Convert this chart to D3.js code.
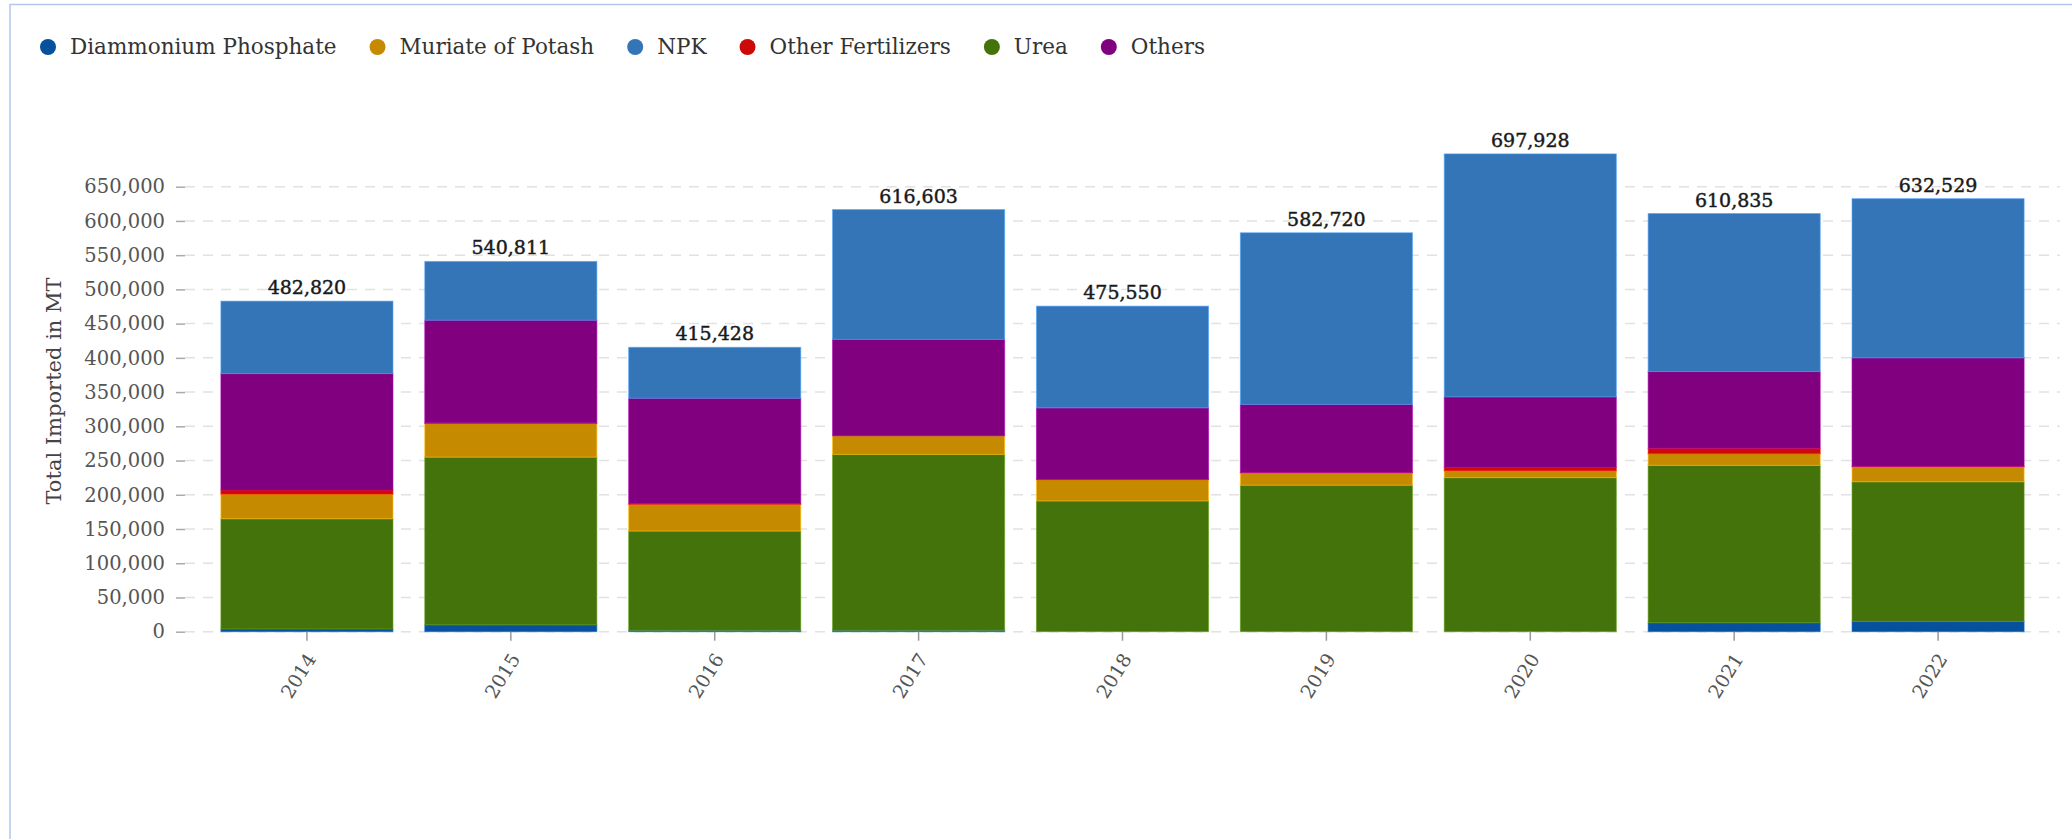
<!DOCTYPE html>
<html>
<head>
<meta charset="utf-8">
<script src="https://cdn.jsdelivr.net/npm/d3@7/dist/d3.min.js"></script>
<style>
  html, body { margin: 0; padding: 0; background: #fff; }
  svg { display: block; font-family: "DejaVu Serif", serif; }
</style>
</head>
<body>
<svg id="chart" width="2072" height="839"></svg>
<script>
// ---- data ----
const years = ["2014","2015","2016","2017","2018","2019","2020","2021","2022"];
const seriesNames = ["Diammonium Phosphate","Muriate of Potash","NPK","Other Fertilizers","Urea","Others"];
const stackOrder = ["Diammonium Phosphate","Urea","Muriate of Potash","Other Fertilizers","Others","NPK"];
const seriesColors = ["#07509d","#c58a00","#3475b8","#cc0a0a","#45730b","#800080"];
const diammoniumPhosphate = [4000, 10000, 2000, 2000, 0, 0, 0, 13000, 15000];
const urea              = [161000, 245000, 145000, 257000, 191000, 214000, 225000, 230000, 204000];
const muriateOfPotash   = [36000, 49000, 39000, 27000, 31000, 18000, 10000, 17000, 22000];
const otherFertilizers  = [6000, 1000, 1000, 0, 500, 500, 5000, 8000, 500];
const others            = [170000, 150000, 154000, 141000, 104500, 99500, 103000, 112000, 158500];
const npk               = [105820, 85811, 74428, 189603, 148550, 250720, 354928, 230835, 232529];
const totals            = [482820, 540811, 415428, 616603, 475550, 582720, 697928, 610835, 632529];
const yTicks = [0,50000,100000,150000,200000,250000,300000,350000,400000,450000,500000,550000,600000,650000];
const yTitle = "Total Imported in MT";

const valuesBySeries = {
  "Diammonium Phosphate": diammoniumPhosphate,
  "Urea": urea,
  "Muriate of Potash": muriateOfPotash,
  "Other Fertilizers": otherFertilizers,
  "Others": others,
  "NPK": npk
};
const table = years.map((y, i) => {
  const row = { year: y, total: totals[i] };
  stackOrder.forEach(s => row[s] = valuesBySeries[s][i]);
  return row;
});
const color = d3.scaleOrdinal().domain(seriesNames).range(seriesColors);

// ---- layout ----
const svg = d3.select("#chart");
const x0 = 185, x1 = 2060, yBase = 631.7, yTop = 186.7;

// frame
svg.append("line").attr("x1", 10).attr("x2", 2072).attr("y1", 4.5).attr("y2", 4.5)
  .attr("stroke", "#b3c7ea").attr("stroke-width", 1.5);
svg.append("line").attr("x1", 10).attr("x2", 10).attr("y1", 4).attr("y2", 839)
  .attr("stroke", "#b3c7ea").attr("stroke-width", 1.5);

const x = d3.scaleBand().domain(years).range([x0, x1]).paddingInner(0.156).paddingOuter(0.176);
const y = d3.scaleLinear().domain([0, 650000]).range([yBase, yTop]);

// gridlines
svg.append("g").selectAll("line").data(yTicks).join("line")
  .attr("x1", x0).attr("x2", x1)
  .attr("y1", d => y(d)).attr("y2", d => y(d))
  .attr("stroke", "#e2e2e2").attr("stroke-width", 1.5)
  .attr("stroke-dasharray", "10,8");

// y axis
const yAxis = svg.append("g").attr("transform", `translate(${x0},0)`)
  .call(d3.axisLeft(y).tickValues(yTicks).tickFormat(d3.format(",")).tickSize(9).tickPadding(11));
yAxis.select(".domain").remove();
yAxis.selectAll(".tick line").attr("stroke", "#aaa").attr("stroke-width", 1.5);
yAxis.selectAll(".tick text").attr("fill", "#555").style("font-size", "19.5px")
  .style("font-family", "DejaVu Serif, serif");

// stacked bars
const stack = d3.stack().keys(stackOrder);
const layers = stack(table);
svg.append("g").selectAll("g").data(layers).join("g")
  .attr("fill", d => color(d.key))
  .attr("stroke", d => d3.color(color(d.key)).brighter(0.9))
  .attr("stroke-opacity", 0.6)
  .attr("stroke-width", 1)
  .selectAll("rect").data(d => d).join("rect")
  .attr("x", d => x(d.data.year))
  .attr("width", x.bandwidth())
  .attr("y", d => y(d[1]))
  .attr("height", d => Math.max(0, y(d[0]) - y(d[1])));

// total labels
svg.append("g").selectAll("text").data(table).join("text")
  .attr("x", d => x(d.year) + x.bandwidth() / 2)
  .attr("y", d => y(d.total) - 7)
  .attr("text-anchor", "middle")
  .attr("fill", "#1a1a1a")
  .attr("stroke", "#1a1a1a").attr("stroke-width", 0.45)
  .style("font-size", "19px")
  .text(d => d3.format(",")(d.total));

// x axis
const xAxis = svg.append("g").attr("transform", `translate(0,${yBase})`)
  .call(d3.axisBottom(x).tickSize(9).tickSizeOuter(0));
xAxis.select(".domain").remove();
xAxis.selectAll(".tick line").attr("stroke", "#999").attr("stroke-width", 1.5);
xAxis.selectAll(".tick text")
  .attr("fill", "#555").style("font-size", "19px").style("font-family", "DejaVu Serif, serif")
  .attr("text-anchor", "end")
  .attr("y", 0).attr("dy", 0)
  .attr("transform", "translate(10,27) rotate(-58)");

// y title
svg.append("text")
  .attr("transform", "translate(55,391) rotate(-90)")
  .attr("text-anchor", "middle")
  .attr("dominant-baseline", "middle")
  .attr("fill", "#444")
  .style("font-size", "21px")
  .text(yTitle);

// legend
const legend = svg.append("g");
let cx = 48;
seriesNames.forEach(name => {
  const g = legend.append("g");
  g.append("circle").attr("cx", cx).attr("cy", 47).attr("r", 8).attr("fill", color(name));
  const t = g.append("text").attr("x", cx + 22).attr("y", 54)
    .attr("fill", "#333").style("font-size", "21.5px").text(name);
  const w = t.node().getComputedTextLength();
  cx = cx + 22 + w + 41;
});
</script>
</body>
</html>
